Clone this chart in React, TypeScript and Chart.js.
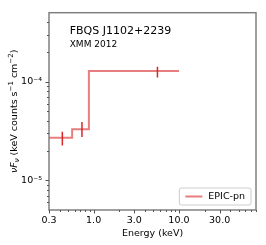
import React, { useEffect, useRef } from "react";
import { Chart, registerables } from "chart.js";
Chart.register(...registerables);

// ---- data ----
const stepEdges = [0.3, 0.56, 0.88, 10.0];
const stepLevels = [2.7e-5, 3.3e-5, 1.28e-4];
const errX = [0.43, 0.73, 5.6];
const errLow = [2.25e-5, 2.75e-5, 1.1e-4];
const errHigh = [3.1e-5, 3.9e-5, 1.42e-4];

const xMajorTicks = [0.3, 1, 3, 10, 30];
const xMajorLabels = ["0.3", "1.0", "3.0", "10.0", "30.0"];
const xMinorTicks = [0.4, 0.5, 0.6, 0.7, 0.8, 0.9, 2, 4, 5, 6, 7, 8, 9, 20, 40, 50, 60, 70, 80];
const yMajorTicks = [1e-5, 1e-4];
const yMajorLabels = ["10⁻⁵", "10⁻⁴"];
const yMinorTicks = [6e-6, 7e-6, 8e-6, 9e-6, 2e-5, 3e-5, 4e-5, 5e-5, 6e-5, 7e-5, 8e-5, 9e-5, 2e-4, 3e-4, 4e-4];

const titleText = "FBQS J1102+2239";
const subtitleText = "XMM 2012";
const legendLabel = "EPIC-pn";
const xTitle = "Energy (keV)";

const X_MIN = 0.3, X_MAX = 80;
const Y_MIN = 5e-6, Y_MAX = 5e-4;

const FONT = "'DejaVu Sans', sans-serif";
const STEP_COLOR = "rgba(214,39,40,0.6)";
const ERR_COLOR = "#d62728";
const SPINE = "#808080";

function buildTicks(major: number[], minor: number[]) {
  const all = major.map(v => ({ value: v, major: true })).concat(minor.map(v => ({ value: v, major: false })));
  all.sort((a, b) => a.value - b.value);
  return all;
}

const decorPlugin = {
  id: "decor",
  afterDraw(chart: any) {
    const { ctx, chartArea: a, scales } = chart;
    ctx.save();
    // spines
    ctx.strokeStyle = SPINE;
    ctx.lineWidth = 1.5;
    ctx.strokeRect(a.left, a.top, a.right - a.left, a.bottom - a.top);
    // ticks
    ctx.lineWidth = 1;
    ctx.strokeStyle = "#555";
    for (const t of scales.x.ticks) {
      const px = Math.round(scales.x.getPixelForValue(t.value)) + 0.5;
      const len = t.major ? 3.5 : 2;
      ctx.beginPath();
      ctx.moveTo(px, a.bottom);
      ctx.lineTo(px, a.bottom + len);
      ctx.stroke();
    }
    for (const t of scales.y.ticks) {
      const py = Math.round(scales.y.getPixelForValue(t.value)) + 0.5;
      const len = t.major ? 3.5 : 2;
      ctx.beginPath();
      ctx.moveTo(a.left, py);
      ctx.lineTo(a.left - len, py);
      ctx.stroke();
    }
    // title texts
    ctx.fillStyle = "#000";
    ctx.textBaseline = "alphabetic";
    ctx.textAlign = "left";
    const tx = a.left + 0.1 * (a.right - a.left);
    ctx.font = `11px ${FONT}`;
    ctx.fillText(titleText, tx, a.top + 21.5);
    ctx.font = `9px ${FONT}`;
    ctx.fillText(subtitleText, tx, a.top + 34.5);

    // legend
    ctx.font = `9.5px ${FONT}`;
    const tw = ctx.measureText(legendLabel).width;
    const bw = 6 + 17 + 6 + tw + 6;
    const bh = 17;
    const bx = a.right - 5 - bw;
    const by = a.bottom - 5 - bh;
    ctx.beginPath();
    const r = 2;
    ctx.moveTo(bx + r, by);
    ctx.lineTo(bx + bw - r, by);
    ctx.arcTo(bx + bw, by, bx + bw, by + r, r);
    ctx.lineTo(bx + bw, by + bh - r);
    ctx.arcTo(bx + bw, by + bh, bx + bw - r, by + bh, r);
    ctx.lineTo(bx + r, by + bh);
    ctx.arcTo(bx, by + bh, bx, by + bh - r, r);
    ctx.lineTo(bx, by + r);
    ctx.arcTo(bx, by, bx + r, by, r);
    ctx.closePath();
    ctx.fillStyle = "rgba(255,255,255,0.8)";
    ctx.fill();
    ctx.strokeStyle = "#cccccc";
    ctx.lineWidth = 1;
    ctx.stroke();
    ctx.strokeStyle = STEP_COLOR;
    ctx.lineWidth = 2;
    ctx.beginPath();
    ctx.moveTo(bx + 6, by + bh / 2);
    ctx.lineTo(bx + 23, by + bh / 2);
    ctx.stroke();
    ctx.fillStyle = "#000";
    ctx.textBaseline = "middle";
    ctx.fillText(legendLabel, bx + 29, by + bh / 2);

    // y-axis title with sub/superscripts
    const segs = [
      { t: "ν", k: "it" },
      { t: "F", k: "it" },
      { t: "ν", k: "sub" },
      { t: " (keV counts s", k: "n" },
      { t: "−1", k: "sup" },
      { t: " cm", k: "n" },
      { t: "−2", k: "sup" },
      { t: ")", k: "n" },
    ];
    const fontFor = (k: string) =>
      k === "it" ? `italic 9.5px ${FONT}` : k === "sub" ? `italic 7px ${FONT}` : k === "sup" ? `7px ${FONT}` : `9.5px ${FONT}`;
    let total = 0;
    for (const s of segs) { ctx.font = fontFor(s.k); total += ctx.measureText(s.t).width; }
    const cy = (a.top + a.bottom) / 2;
    ctx.translate(13, cy);
    ctx.rotate(-Math.PI / 2);
    ctx.textBaseline = "alphabetic";
    ctx.textAlign = "left";
    let x = -total / 2;
    const base = 3.5;
    for (const s of segs) {
      ctx.font = fontFor(s.k);
      const dy = s.k === "sub" ? 2 : s.k === "sup" ? -4 : 0;
      ctx.fillText(s.t, x, base + dy);
      x += ctx.measureText(s.t).width;
    }
    ctx.restore();
  },
};

export default function App() {
  const ref = useRef<HTMLCanvasElement>(null);
  useEffect(() => {
    if (!ref.current) return;
    const stepData = stepEdges.map((e, i) => ({ x: e, y: stepLevels[Math.min(i, stepLevels.length - 1)] }));
    const errSets = errX.map((x, i) => ({
      data: [{ x, y: errLow[i] }, { x, y: errHigh[i] }],
      borderColor: ERR_COLOR,
      borderWidth: 1.5,
      pointRadius: 0,
      showLine: true,
      fill: false,
    }));
    const chart = new Chart(ref.current, {
      type: "scatter",
      data: {
        datasets: [
          {
            label: legendLabel,
            data: stepData,
            borderColor: STEP_COLOR,
            borderWidth: 2,
            pointRadius: 0,
            showLine: true,
            stepped: "before",
            fill: false,
          } as any,
          ...errSets,
        ],
      },
      plugins: [decorPlugin],
      options: {
        animation: false,
        responsive: true,
        maintainAspectRatio: false,
        layout: { padding: { top: 10, right: 10, left: 0, bottom: 0 } },
        plugins: { legend: { display: false }, tooltip: { enabled: false } },
        scales: {
          x: {
            type: "logarithmic",
            min: X_MIN,
            max: X_MAX,
            afterBuildTicks: (s: any) => { s.ticks = buildTicks(xMajorTicks, xMinorTicks); },
            afterFit: (s: any) => { s.height = 35; },
            grid: { display: false, drawTicks: false, tickLength: 0 },
            border: { display: false },
            ticks: {
              autoSkip: false,
              maxRotation: 0,
              padding: 5,
              color: "#000",
              font: { family: FONT, size: 9.5 },
              callback: (v: any) => {
                const i = xMajorTicks.findIndex(m => Math.abs(m - Number(v)) < 1e-9);
                return i >= 0 ? xMajorLabels[i] : "";
              },
            },
            title: {
              display: true,
              text: xTitle,
              color: "#000",
              font: { family: FONT, size: 9.5 },
              padding: { top: 0, bottom: 6 },
            },
          },
          y: {
            type: "logarithmic",
            min: Y_MIN,
            max: Y_MAX,
            afterBuildTicks: (s: any) => { s.ticks = buildTicks(yMajorTicks, yMinorTicks); },
            afterFit: (s: any) => { s.width = 49; },
            grid: { display: false, drawTicks: false, tickLength: 0 },
            border: { display: false },
            ticks: {
              autoSkip: false,
              padding: 7,
              color: "#000",
              font: { family: FONT, size: 9.5 },
              callback: (v: any) => {
                const i = yMajorTicks.findIndex(m => Math.abs(m - Number(v)) / m < 1e-6);
                return i >= 0 ? yMajorLabels[i] : "";
              },
            },
          },
        },
      },
    });
    return () => chart.destroy();
  }, []);
  return (
    <div style={{ position: "fixed", left: 0, top: 0, width: 266, height: 245, background: "#fff" }}>
      <canvas ref={ref} />
    </div>
  );
}
